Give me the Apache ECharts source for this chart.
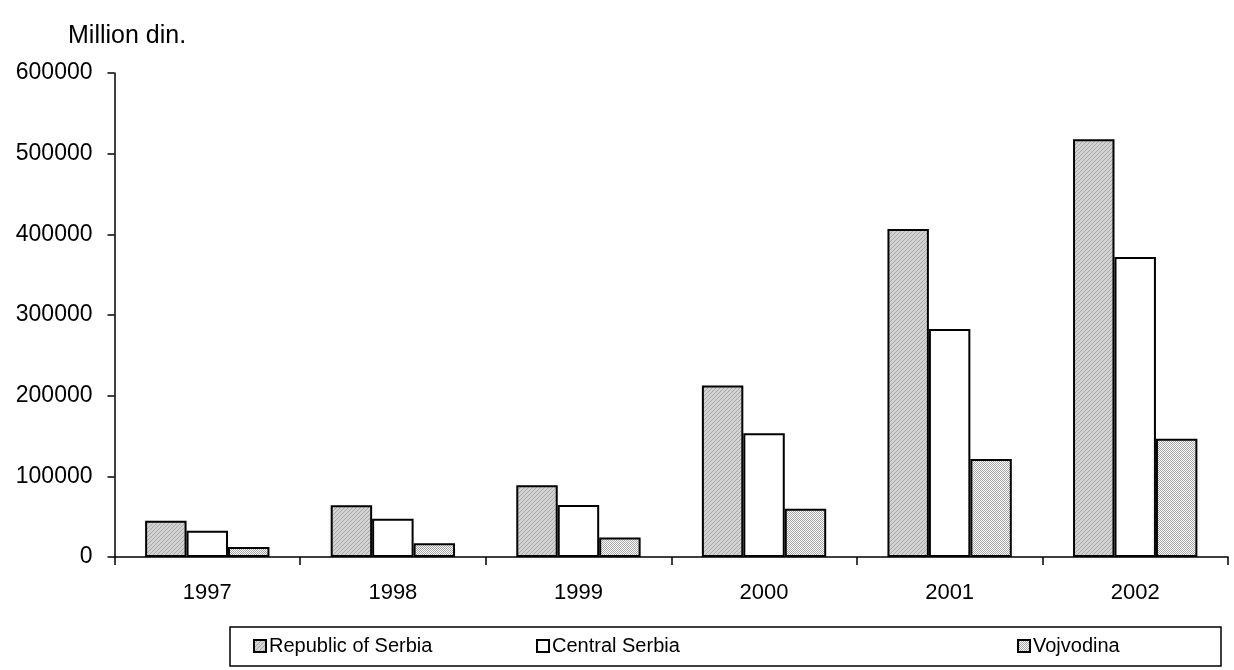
<!DOCTYPE html>
<html>
<head>
<meta charset="utf-8">
<script src="https://cdn.jsdelivr.net/npm/echarts@6/dist/echarts.min.js"></script>
<style>
  html, body { margin: 0; padding: 0; background: #fff; }
  #chart { width: 1234px; height: 670px; }
</style>
</head>
<body>
<div id="chart"></div>
<script>
// data
var years = ['1997', '1998', '1999', '2000', '2001', '2002'];
var republic = [45000, 64000, 89000, 212500, 406500, 518000];
var central = [32500, 47500, 64500, 153500, 282500, 372000];
var vojvodina = [12400, 17000, 24300, 59800, 121500, 146500];
var yTicks = [0, 100000, 200000, 300000, 400000, 500000, 600000];

// small canvas fills to mimic the hatch / dot patterns
function makePattern(kind) {
  var c = document.createElement('canvas');
  c.width = 4;
  c.height = 4;
  var ctx = c.getContext('2d');
  if (kind == 'hatch') {
    ctx.fillStyle = '#d2d2d2';
    ctx.fillRect(0, 0, 4, 4);
    ctx.fillStyle = '#a8a8a8';
    for (var i = 0; i < 4; i++) {
      ctx.fillRect((3 - i), i, 1, 1);
    }
  } else {
    ctx.fillStyle = '#ffffff';
    ctx.fillRect(0, 0, 4, 4);
    ctx.fillStyle = '#a6a6a6';
    for (var y = 0; y < 4; y++) {
      for (var x = 0; x < 4; x++) {
        if ((x + y) % 2 == 0) ctx.fillRect(x, y, 1, 1);
      }
    }
  }
  return { image: c, repeat: 'repeat' };
}

var hatch = makePattern('hatch');
var dots = makePattern('dots');
var font = 'Liberation Sans';

var chart = echarts.init(document.getElementById('chart'), null, { renderer: 'canvas' });

function legendFor(name, left) {
  return {
    data: [name],
    left: left,
    top: 636,
    icon: 'rect',
    itemWidth: 12,
    itemHeight: 12,
    itemGap: 0,
    padding: 0,
    selectedMode: false,
    textStyle: { fontFamily: font, fontSize: 20, color: '#000', padding: [0, 0, 0, -2] }
  };
}

var option = {
  backgroundColor: '#ffffff',
  animation: false,
  title: {
    text: 'Million din.',
    left: 63,
    top: 19,
    textStyle: { fontFamily: font, fontSize: 25, fontWeight: 'normal', color: '#000' }
  },
  legend: [
    legendFor('Republic of Serbia', 253),
    legendFor('Central Serbia', 536),
    legendFor('Vojvodina', 1017)
  ],
  graphic: [{
    type: 'rect',
    shape: { x: 230, y: 627, width: 991, height: 39 },
    style: { fill: 'none', stroke: '#000', lineWidth: 1.5 },
    z: 0
  }],
  grid: { left: 114.5, right: 6, top: 73, bottom: 113, containLabel: false },
  xAxis: {
    type: 'category',
    data: years,
    boundaryGap: true,
    axisLine: { lineStyle: { color: '#000', width: 1.5 } },
    axisTick: { show: true, length: 8, interval: 0, lineStyle: { color: '#000', width: 1.5 } },
    axisLabel: { margin: 25, fontFamily: font, fontSize: 22, color: '#000' },
    splitLine: { show: false }
  },
  yAxis: {
    type: 'value',
    min: yTicks[0],
    max: yTicks[yTicks.length - 1],
    interval: 100000,
    axisLine: { show: true, lineStyle: { color: '#000', width: 1.5 } },
    axisTick: { show: true, length: 7, lineStyle: { color: '#000', width: 1.5 } },
    axisLabel: {
      margin: 22, fontFamily: font, fontSize: 23, color: '#000',
      formatter: function (v) { return String(v); }
    },
    splitLine: { show: false }
  },
  series: [
    {
      name: 'Republic of Serbia',
      type: 'bar',
      data: republic,
      barGap: '0%',
      barCategoryGap: '33%',
      itemStyle: { color: hatch, borderColor: '#000', borderWidth: 2 }
    },
    {
      name: 'Central Serbia',
      type: 'bar',
      data: central,
      itemStyle: { color: '#ffffff', borderColor: '#000', borderWidth: 2 }
    },
    {
      name: 'Vojvodina',
      type: 'bar',
      data: vojvodina,
      itemStyle: { color: dots, borderColor: '#000', borderWidth: 2 }
    }
  ]
};

chart.setOption(option);
</script>
</body>
</html>
